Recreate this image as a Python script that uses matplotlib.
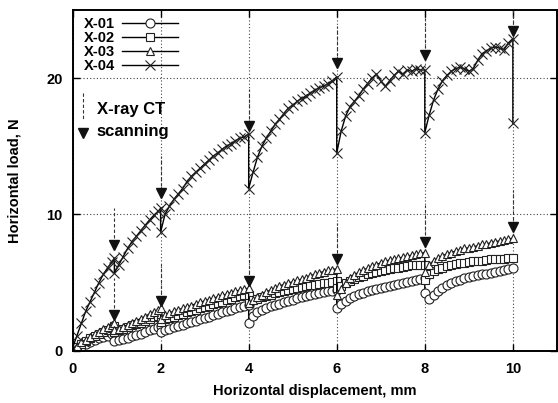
import numpy as np
import matplotlib
matplotlib.use("Agg")
import matplotlib.pyplot as plt

plt.rcParams["font.family"] = ["Liberation Sans", "DejaVu Sans"]
plt.rcParams["font.weight"] = "bold"

# displacement (mm) shared by all specimens; repeated x = load drop during CT scan
disp = [0.0, 0.1, 0.2, 0.3, 0.4, 0.5, 0.6, 0.7, 0.8, 0.9, 0.95, 0.95,
        1.05, 1.15, 1.25, 1.35, 1.45, 1.55, 1.65, 1.75, 1.85, 1.95, 2.0, 2.0,
        2.1, 2.2, 2.3, 2.4, 2.5, 2.6, 2.7, 2.8, 2.9, 3.0, 3.1, 3.2, 3.3, 3.4, 3.5, 3.6, 3.7, 3.8, 3.9, 4.0, 4.0,
        4.1, 4.2, 4.3, 4.4, 4.5, 4.6, 4.7, 4.8, 4.9, 5.0, 5.1, 5.2, 5.3, 5.4, 5.5, 5.6, 5.7, 5.8, 5.9, 6.0, 6.0,
        6.1, 6.2, 6.3, 6.4, 6.5, 6.6, 6.7, 6.8, 6.9, 7.0, 7.1, 7.2, 7.3, 7.4, 7.5, 7.6, 7.7, 7.8, 7.9, 8.0, 8.0,
        8.1, 8.2, 8.3, 8.4, 8.5, 8.6, 8.7, 8.8, 8.9, 9.0, 9.1, 9.2, 9.3, 9.4, 9.5, 9.6, 9.7, 9.8, 9.9, 10.0, 10.0]

nan = float("nan")
load_x01 = [0.05, 0.15, 0.3, 0.45, 0.6, 0.75, 0.9, 1.0, 1.1, 1.2, 1.3, 0.7,
            0.75, 0.85, 0.95, 1.05, 1.15, 1.25, 1.35, 1.5, 1.6, 1.7, 1.8, 1.35,
            1.5, 1.6, 1.7, 1.8, 1.9, 2.0, 2.1, 2.2, 2.3, 2.4, 2.5, 2.6, 2.7, 2.8, 2.9, 3.0, 3.1, 3.2, 3.3, 3.35, 2.0,
            2.55, 2.8, 2.95, 3.1, 3.25, 3.35, 3.45, 3.55, 3.65, 3.75, 3.85, 3.95, 4.0, 4.1, 4.15, 4.25, 4.3, 4.35, 4.4, 4.45, 3.1,
            3.4, 3.65, 3.85, 4.0, 4.15, 4.25, 4.35, 4.45, 4.55, 4.6, 4.7, 4.75, 4.85, 4.9, 5.0, 5.05, 5.1, 5.2, 5.25, 5.3, 4.2,
            3.8, 4.1, 4.35, 4.6, 4.8, 5.0, 5.1, 5.2, 5.3, 5.4, 5.45, 5.55, 5.6, 5.65, 5.7, 5.8, 5.85, 5.9, 6.0, 6.05, nan]
load_x02 = [0.1, 0.3, 0.5, 0.7, 0.9, 1.05, 1.2, 1.35, 1.5, 1.65, 1.8, 1.4,
            1.5, 1.6, 1.7, 1.85, 1.95, 2.05, 2.2, 2.3, 2.45, 2.55, 2.6, 2.1,
            2.3, 2.4, 2.5, 2.6, 2.7, 2.8, 2.9, 3.0, 3.1, 3.2, 3.3, 3.4, 3.5, 3.6, 3.7, 3.8, 3.9, 4.0, 4.05, 4.1, 3.5,
            3.7, 3.8, 3.9, 4.0, 4.1, 4.2, 4.3, 4.35, 4.45, 4.5, 4.6, 4.65, 4.75, 4.8, 4.85, 4.9, 4.95, 5.0, 5.05, 5.1, 4.6,
            4.75, 4.95, 5.1, 5.25, 5.4, 5.5, 5.6, 5.7, 5.8, 5.85, 5.95, 6.0, 6.05, 6.1, 6.15, 6.2, 6.25, 6.25, 6.3, 6.3, 5.2,
            5.6, 5.85, 6.0, 6.1, 6.2, 6.3, 6.35, 6.4, 6.45, 6.5, 6.55, 6.6, 6.6, 6.65, 6.7, 6.7, 6.75, 6.75, 6.8, 6.8, nan]
load_x03 = [0.1, 0.35, 0.6, 0.8, 1.0, 1.2, 1.4, 1.55, 1.7, 1.85, 2.0, 1.5,
            1.6, 1.75, 1.9, 2.05, 2.2, 2.35, 2.5, 2.7, 2.85, 3.0, 3.1, 2.3,
            2.6, 2.75, 2.9, 3.0, 3.1, 3.2, 3.3, 3.45, 3.55, 3.65, 3.75, 3.85, 3.95, 4.05, 4.15, 4.25, 4.35, 4.45, 4.5, 4.6, 3.5,
            3.7, 3.9, 4.1, 4.3, 4.45, 4.6, 4.75, 4.85, 4.95, 5.05, 5.15, 5.25, 5.35, 5.5, 5.6, 5.7, 5.8, 5.9, 5.95, 6.0, 4.1,
            4.5, 5.0, 5.3, 5.55, 5.75, 5.9, 6.05, 6.2, 6.3, 6.45, 6.55, 6.65, 6.7, 6.8, 6.85, 6.95, 7.0, 7.1, 7.15, 7.2, 5.8,
            6.3, 6.6, 6.8, 6.95, 7.1, 7.2, 7.3, 7.4, 7.5, 7.55, 7.6, 7.7, 7.8, 7.85, 7.9, 8.0, 8.05, 8.1, 8.2, 8.25, nan]
load_x04 = [0.2, 1.1, 2.0, 2.9, 3.6, 4.3, 5.0, 5.6, 6.1, 6.5, 6.8, 5.7,
            6.3, 6.9, 7.5, 8.0, 8.4, 8.8, 9.2, 9.6, 9.95, 10.25, 10.45, 8.7,
            10.0, 10.6, 11.1, 11.5, 11.9, 12.4, 12.8, 13.1, 13.4, 13.7, 14.0, 14.3, 14.5, 14.8, 15.0, 15.2, 15.4, 15.6, 15.7, 15.9, 11.9,
            13.1, 14.2, 15.0, 15.6, 16.1, 16.6, 17.0, 17.4, 17.8, 18.0, 18.3, 18.5, 18.7, 18.9, 19.1, 19.3, 19.4, 19.6, 19.8, 20.1, 14.5,
            16.1, 17.2, 17.9, 18.3, 18.7, 19.2, 19.6, 20.0, 20.3, 19.8, 19.4, 19.8, 20.2, 20.5, 20.3, 20.6, 20.5, 20.7, 20.6, 20.6, 16.0,
            17.3, 18.4, 19.2, 19.8, 20.2, 20.5, 20.7, 20.8, 20.7, 20.5, 20.7, 21.3, 21.8, 22.0, 22.2, 22.3, 22.2, 22.1, 22.6, 22.9, 16.7]

# CT scan marks: displacement, arrow heads above X-04 and above the X-01..03 group
scan_x = [0.95, 2.0, 4.0, 6.0, 8.0, 10.0]
scan_hi = [7.75, 11.6, 16.5, 21.1, 21.7, 23.45]
scan_lo = [2.6, 3.67, 5.1, 6.7, 8.0, 9.06]
dash_len = 2.7

fig = plt.figure(figsize=(5.58, 4.03), dpi=100)
ax = fig.add_axes([0.13, 0.13, 0.868, 0.845])

kw = dict(color="black", lw=1.0, mec="#222222", mew=0.8)
ax.plot(disp, load_x01, marker="o", ms=6.5, mfc="white", label="X-01", **kw)
ax.plot(disp, load_x02, marker="s", ms=5.5, mfc="white", label="X-02", **kw)
ax.plot(disp, load_x03, marker="^", ms=5.5, mfc="white", label="X-03", **kw)
ax.plot(disp, load_x04, marker="x", ms=6.5, label="X-04", **kw)

for sx, hi, lo in zip(scan_x, scan_hi, scan_lo):
    for yt in (hi, lo):
        ax.plot([sx, sx], [yt + 0.5, min(yt + dash_len, 25)], ls=(0, (3, 2)), color="#333333", lw=0.8)
        ax.plot([sx], [yt], marker="v", ms=6.5, color="#111111", ls="none")

ax.set_xlim(0, 11)
ax.set_ylim(0, 25)
ax.set_xticks([0, 2, 4, 6, 8, 10])
ax.set_yticks([0, 10, 20])
ax.tick_params(direction="in", length=5, width=1, top=True, right=True, labelsize=10.5)
ax.tick_params(axis="x", pad=8)
ax.tick_params(axis="y", pad=7)
ax.grid(True, ls=(0, (1, 2)), color="#444444", lw=0.8)
for s in ax.spines.values():
    s.set_linewidth(1.4)
ax.set_xlabel("Horizontal displacement, mm", fontsize=10.5, fontweight="bold", labelpad=6)
ax.set_ylabel("Horizontal load, N", fontsize=10.5, fontweight="bold", labelpad=18)

leg = ax.legend(loc="upper left", bbox_to_anchor=(0.005, 1.005), frameon=False, markerfirst=False,
                handlelength=3.8, handletextpad=0.5, labelspacing=0.0,
                borderaxespad=0.2, prop={"weight": "bold", "size": 10.5})
for h in leg.legend_handles:
    h.set_markerfacecolor("white")

# X-ray CT key
ax.plot([0.24, 0.24], [18.9, 16.9], ls=(0, (3, 2)), color="#333333", lw=0.8, clip_on=False)
ax.plot([0.24], [16.0], marker="v", ms=6.5, color="#111111", ls="none")
ax.text(0.55, 17.7, "X-ray CT", fontsize=12, fontweight="bold", va="center")
ax.text(0.55, 16.1, "scanning", fontsize=12, fontweight="bold", va="center")

fig.savefig("out.png", dpi=100)
